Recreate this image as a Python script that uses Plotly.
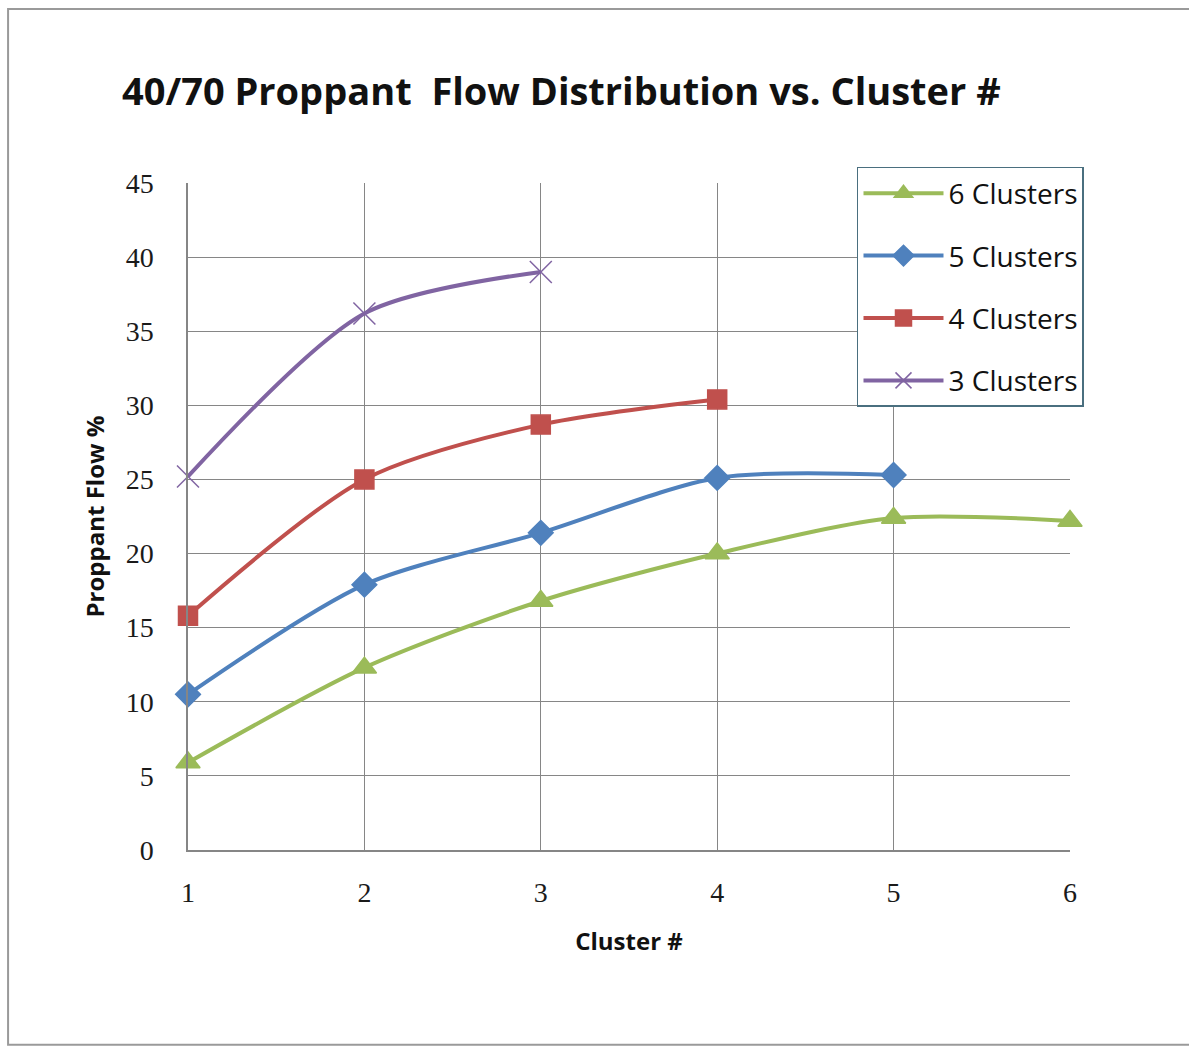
import plotly.graph_objects as go

cluster_num = [1, 2, 3, 4, 5, 6]

flow_6 = [5.9, 12.3, 16.8, 20.0, 22.4, 22.2]
flow_5 = [10.5, 17.9, 21.4, 25.1, 25.3]
flow_4 = [15.8, 25.0, 28.7, 30.4]
flow_3 = [25.2, 36.2, 39.0]

series = [
    ("6 Clusters", flow_6, "#9BBB59", "triangle-up", 21),
    ("5 Clusters", flow_5, "#4F81BD", "diamond", 19),
    ("4 Clusters", flow_4, "#C0504D", "square", 19),
    ("3 Clusters", flow_3, "#8064A2", "x-thin-open", 22),
]

fig = go.Figure()
for name, vals, color, sym, size in series:
    fig.add_trace(go.Scatter(
        x=cluster_num[:len(vals)], y=vals, name=name, legendgroup=name,
        mode="lines+markers", cliponaxis=False,
        line=dict(color=color, width=4, shape="spline", smoothing=0.8),
        marker=dict(symbol=sym, size=size, color=color,
                    line=dict(color=color, width=1.5)),
    ))

tick_font = dict(family="Liberation Serif, DejaVu Serif, serif", size=28, color="#1a1a1a")
label_font = dict(family="Open Sans, Noto Sans, sans-serif", size=24, color="#111")

fig.update_layout(
    width=1189, height=1048,
    margin=dict(l=188, r=119, t=183, b=198),
    paper_bgcolor="white", plot_bgcolor="white",
    showlegend=True,
    legend=dict(
        x=0.7585, y=1.024, xanchor="left", yanchor="top",
        bgcolor="white", bordercolor="#4a6f7f", borderwidth=1.5,
        font=dict(family="Open Sans, Noto Sans, sans-serif", size=28, color="#111"),
        tracegroupgap=23, itemwidth=80,
    ),
    annotations=[dict(
        text="<b>40/70 Proppant  Flow Distribution vs. Cluster #</b>",
        xref="paper", yref="paper", x=-0.077, y=1.139,
        xanchor="left", yanchor="middle", showarrow=False,
        font=dict(family="Open Sans, Noto Sans, sans-serif", size=38, color="#111"),
    )],
    shapes=[dict(
        type="rect", xref="paper", yref="paper",
        x0=-0.204, x1=1.2, y0=-0.292, y1=1.261,
        line=dict(color="#9a9a9a", width=2), fillcolor="rgba(0,0,0,0)", layer="below",
    )],
)

fig.update_xaxes(
    range=[1, 6], tickvals=cluster_num, ticktext=[str(c) for c in cluster_num],
    showgrid=True, gridcolor="#868686", gridwidth=1,
    showline=True, linecolor="#868686", linewidth=1.5, mirror=False,
    zeroline=False, ticks="", ticklen=0, tickfont=tick_font, ticklabelstandoff=17,
    title=dict(text="<b>Cluster #</b>", font=label_font, standoff=26),
)
fig.update_yaxes(
    range=[0, 45], tickvals=list(range(0, 46, 5)),
    showgrid=True, gridcolor="#868686", gridwidth=1,
    showline=True, linecolor="#868686", linewidth=1.5,
    zeroline=False, ticks="", tickfont=tick_font, ticklabelstandoff=27,
    title=dict(text="<b>Proppant Flow %</b>", font=label_font, standoff=14),
)

fig.write_html("out.html")
